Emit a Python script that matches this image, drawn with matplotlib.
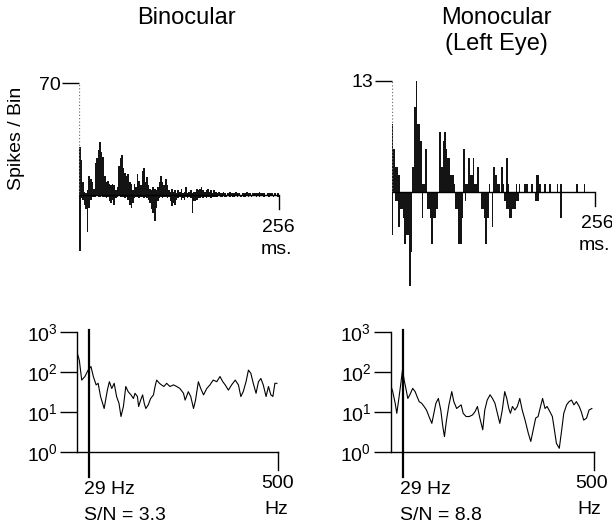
import numpy as np
import matplotlib.pyplot as plt

plt.rcParams['font.family'] = ['Liberation Sans', 'DejaVu Sans']
plt.rcParams['mathtext.fontset'] = 'custom'
plt.rcParams['mathtext.rm'] = 'Liberation Sans'

W, H = 612, 528
FS = 14
FS_TITLE = 17

# PSTH, 2 ms bins over 0-256 ms (spikes per bin, negative = second half)
bin_ms = 2
bino_pos = [30, 22, 8, 2, 1, 3, 12, 10, 8, 4,
            20, 23, 28, 33, 27, 24, 12, 8, 9, 7,
            6, 7, 6, 3, 5, 18, 23, 25, 17, 14,
            12, 13, 8, 7, 3, 7, 5, 13, 9, 6,
            15, 17, 8, 11, 6, 4, 3, 5, 4, 3,
            5, 8, 12, 8, 6, 10, 6, 3, 2, 4,
            2, 3, 1, 3, 2, 4, 1, 2, 5, 1,
            2, 3, 1, 2, 2, 4, 3, 4, 5, 3,
            2, 3, 4, 2, 3, 1, 3, 2, 1, 2,
            1, 1, 2, 1, 0, 1, 2, 1, 1, 1,
            2, 1, 1, 0, 1, 1, 1, 2, 1, 1,
            0, 1, 1, 1, 1, 2, 1, 1, 1, 0,
            1, 1, 1, 1, 0, 1, 0, 1]
bino_neg = [-35, -2, -3, -6, -9, -23, -8, -3, -1, -1,
            -1, 0, -1, -1, 0, -1, -1, -2, -1, -4,
            -5, -3, -6, -2, -1, 0, -1, -1, -1, -2,
            -1, -3, -6, -8, -5, -2, -1, -1, -2, -1,
            -1, -2, -1, -2, -3, -5, -9, -11, -16, -8,
            -4, -2, -1, -2, -1, -1, -2, -1, -4, -7,
            -5, -6, -3, -2, -1, -3, -2, -3, -1, -2,
            -1, -2, -11, -4, -4, -3, -2, -2, -1, -2,
            -1, -2, -1, -1, -2, -1, -1, -1, -1, 0,
            -1, -1, 0, -1, -1, 0, -1, 0, -1, -1,
            0, -1, 0, -1, 0, -1, -1, 0, -1, 0,
            -1, 0, 0, -1, 0, -1, 0, 0, -1, 0,
            0, -1, 0, 0, -1, 0, 0, -1]
mono_pos = [8, 5, 3, 3, 2, 0, 0, 0, 0, 0,
            0, 0, 0, 3, 10, 13, 8, 8, 6, 1,
            1, 5, 0, 0, 0, 0, 0, 0, 0, 0,
            7, 3, 6, 7, 5, 4, 4, 2, 2, 1,
            0, 0, 0, 0, 0, 5, 1, 1, 4, 2,
            2, 4, 1, 1, 3, 0, 0, 0, 0, 0,
            0, 1, 0, 0, 3, 2, 1, 1, 0, 3,
            1, 0, 4, 1, 0, 0, 0, 0, 1, 0,
            1, 0, 0, 1, 1, 1, 0, 0, 1, 0,
            0, 2, 2, 1, 0, 0, 1, 0, 0, 1,
            0, 0, 0, 0, 1, 0, 1, 0, 0, 0,
            0, 0, 0, 0, 0, 0, 1, 0, 0, 0,
            0, 1, 0, 0, 0, 0, 0, 0]
mono_neg = [-5, 0, -1, -1, -4, -2, -2, -3, -6, -5,
            -5, -11, -7, 0, 0, 0, 0, 0, 0, -3,
            0, 0, -2, -2, -3, -6, -3, -3, -2, 0,
            0, 0, 0, 0, 0, 0, 0, 0, 0, 0,
            -2, -2, -6, -6, -3, 0, -1, 0, 0, 0,
            0, 0, 0, 0, 0, 0, -2, -2, -3, -6,
            -3, 0, 0, -4, 0, 0, 0, 0, 0, 0,
            0, -1, -2, -2, -3, -3, -2, -2, -1, -1,
            0, 0, 0, 0, 0, 0, 0, 0, 0, 0,
            -1, -1, -1, 0, 0, 0, 0, 0, 0, 0,
            0, 0, 0, 0, 0, 0, -3, 0, 0, 0,
            0, 0, 0, 0, 0, 0, 0, 0, 0, 0,
            0, 0, 0, 0, 0, 0, 0, 0]

# power spectra (Hz, log10 power)
bino_f = [0, 5, 11, 19, 27, 34, 40, 47, 52, 58, 67, 75, 80, 86, 92, 98, 104, 109, 115, 121,
          127, 134, 140, 144, 150, 153, 158, 163, 167, 171, 177, 183, 190, 194, 198, 205, 210,
          216, 223, 231, 240, 248, 256, 265, 269, 277, 283, 290, 295, 302, 308, 315, 323, 331,
          339, 348, 356, 363, 369, 377, 385, 394, 402, 408, 414, 421, 427, 433, 439, 446, 452,
          458, 464, 471, 477, 483, 488, 493, 498]
bino_logp = [2.46, 2.29, 1.79, 1.88, 2.04, 2.13, 1.88, 1.67, 1.71, 1.38, 1.08, 1.54, 1.75, 1.58,
             1.71, 1.38, 1.21, 0.88, 1.13, 1.63, 1.5, 1.42, 1.33, 1.46, 1.38, 1.13, 1.29, 1.42,
             1.21, 1.08, 1.17, 1.33, 1.42, 1.63, 1.79, 1.71, 1.67, 1.63, 1.71, 1.63, 1.67, 1.63,
             1.58, 1.46, 1.29, 1.5, 1.38, 1.08, 1.29, 1.75, 1.58, 1.42, 1.58, 1.67, 1.79, 1.75,
             1.88, 1.75, 1.67, 1.54, 1.67, 1.79, 1.67, 1.38, 1.5, 1.75, 2.04, 1.96, 1.71, 1.46,
             1.75, 1.83, 1.67, 1.38, 1.63, 1.42, 1.38, 1.71, 1.71]
mono_f = [0, 5, 11, 15, 19, 25, 29, 33, 38, 42, 47, 54, 60, 65, 70, 76, 82, 88, 94, 101,
          106, 111, 117, 123, 128, 132, 137, 143, 150, 155, 162, 168, 173, 178, 185, 193, 201,
          207, 213, 219, 226, 231, 237, 244, 250, 256, 262, 268, 274, 280, 285, 290, 294, 299,
          305, 311, 317, 323, 330, 338, 344, 350, 356, 362, 368, 373, 379, 384, 391, 397, 402,
          407, 414, 420, 425, 432, 438, 444, 450, 456, 463, 468, 474, 481, 487, 494]
mono_logp = [1.67, 1.51, 1.22, 0.97, 1.26, 1.72, 2.05, 1.80, 1.55, 1.34, 1.43, 1.59, 1.51, 1.38,
             1.26, 1.22, 1.14, 1.05, 0.89, 0.72, 0.97, 1.22, 1.34, 1.05, 0.64, 0.39, 0.80, 1.18,
             1.51, 1.26, 1.09, 1.14, 1.18, 0.97, 0.89, 0.89, 0.93, 1.01, 1.14, 0.85, 0.56, 1.05,
             1.30, 1.43, 1.34, 1.22, 0.97, 0.72, 1.05, 1.51, 1.34, 1.09, 0.97, 1.14, 1.05, 1.14,
             1.34, 1.05, 0.80, 0.47, 0.27, 0.56, 0.85, 0.89, 1.14, 1.34, 1.09, 1.14, 1.01, 0.89,
             0.56, 0.22, 0.10, 0.56, 0.97, 1.18, 1.26, 1.30, 1.18, 1.26, 1.14, 1.01, 0.80, 0.85,
             1.05, 1.09]

peak_hz = 29
snr = ["3.3", "8.8"]


def px_axes(fig, x0, x1, ytop, ybot):
    # place axes by pixel box (y measured from top)
    return fig.add_axes([x0 / W, 1 - ybot / H, (x1 - x0) / W, (ybot - ytop) / H])


def ftext(fig, x, y, s, size=FS, **kw):
    fig.text(x / W, 1 - y / H, s, fontsize=size, **kw)


def psth(ax, pos, neg, top, ylo, label, ppu):
    left = np.arange(len(pos)) * bin_ms
    ax.bar(left, pos, width=bin_ms, align='edge', color='#141414', lw=0)
    ax.bar(left, neg, width=bin_ms, align='edge', color='#141414', lw=0)
    ax.set_xlim(0, 256)
    ax.set_ylim(ylo, top)
    for s in ax.spines.values():
        s.set_visible(False)
    ax.set_xticks([])
    ax.set_yticks([top])
    ax.set_yticklabels([label])
    ax.tick_params(axis='y', length=12, width=1, labelsize=FS, pad=1)
    ax.vlines(0, 0, top, colors='0.45', linestyles=':', lw=0.9)
    ax.plot([0, 256], [0, 0], color='k', lw=1)
    ax.plot([256, 256], [0, -14 / ppu], color='k', lw=1, clip_on=False)
    ax.patch.set_visible(False)


def spectrum(ax, f, logp):
    ax.semilogy(f, 10 ** np.array(logp), color='k', lw=0.8)
    ax.set_xlim(0, 500)
    ax.set_ylim(1, 1000)
    ax.spines['top'].set_visible(False)
    ax.spines['right'].set_visible(False)
    ax.spines['left'].set_linewidth(1)
    ax.spines['bottom'].set_linewidth(1)
    ax.set_xticks([])
    ax.set_yticks([1, 10, 100, 1000])
    ax.set_yticklabels([r'$\mathregular{10^0}$', r'$\mathregular{10^1}$',
                        r'$\mathregular{10^2}$', r'$\mathregular{10^3}$'])
    ax.yaxis.set_minor_locator(plt.NullLocator())
    ax.tick_params(axis='y', length=12, width=1, labelsize=FS, pad=2)
    # marker line at the stimulus frequency, running past the axes
    ax.plot([peak_hz, peak_hz], [10 ** 3.04, 10 ** (-25 / 40)], color='k', lw=1.6, clip_on=False)
    ax.plot([500, 500], [1, 10 ** (-18 / 40)], color='k', lw=1, clip_on=False)
    ax.patch.set_visible(False)


fig = plt.figure(figsize=(W / 100, H / 100), dpi=100)

# top: PSTHs
ax1 = px_axes(fig, 79, 279, 83, 195 + 36 * 1.6)
psth(ax1, bino_pos, bino_neg, 70, -36, "70", 1.6)
ax2 = px_axes(fig, 391.7, 595, 81, 192.3 + 11.5 * 8.56)
psth(ax2, mono_pos, mono_neg, 13, -11.5, "13", 8.56)

# bottom: spectra
ax3 = px_axes(fig, 77.3, 277.7, 331.7, 451.7)
spectrum(ax3, bino_f, bino_logp)
ax4 = px_axes(fig, 390.7, 594.3, 331.7, 452.3)
spectrum(ax4, mono_f, mono_logp)

ftext(fig, 186, 18, "Binocular", size=FS_TITLE, ha='center', va='center')
ftext(fig, 496, 18, "Monocular", size=FS_TITLE, ha='center', va='center')
ftext(fig, 496, 44, "(Left Eye)", size=FS_TITLE, ha='center', va='center')
ftext(fig, 17, 138, "Spikes / Bin", ha='center', va='center', rotation=90)

ftext(fig, 278, 227, "256", ha='center', va='center')
ftext(fig, 276, 249, "ms.", ha='center', va='center')
ftext(fig, 597, 223, "256", ha='center', va='center')
ftext(fig, 594, 245, "ms.", ha='center', va='center')

ftext(fig, 84, 490, "29 Hz", ha='left', va='center')
ftext(fig, 84, 515, "S/N = " + snr[0], ha='left', va='center')
ftext(fig, 278, 484, "500", ha='center', va='center')
ftext(fig, 276, 509, "Hz", ha='center', va='center')
ftext(fig, 400, 490, "29 Hz", ha='left', va='center')
ftext(fig, 400, 515, "S/N = " + snr[1], ha='left', va='center')
ftext(fig, 592, 484, "500", ha='center', va='center')
ftext(fig, 589, 509, "Hz", ha='center', va='center')

fig.savefig("out.png", dpi=100)
